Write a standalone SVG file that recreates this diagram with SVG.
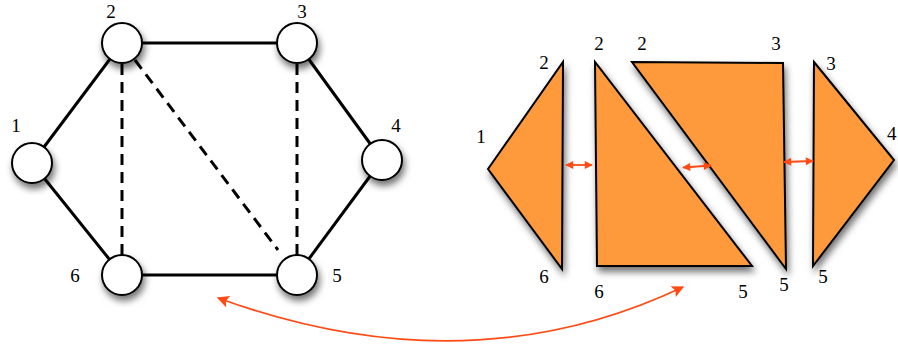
<svg xmlns="http://www.w3.org/2000/svg" width="898" height="350" viewBox="0 0 898 350">
<defs>
<filter id="sh" x="-30%" y="-30%" width="160%" height="160%">
<feDropShadow dx="2" dy="5" stdDeviation="3.5" flood-color="#000" flood-opacity="0.55"/>
</filter>
<marker id="ah" viewBox="0 0 10 10" refX="9" refY="5" markerWidth="10" markerHeight="8" markerUnits="userSpaceOnUse" orient="auto-start-reverse">
<path d="M0,0 L10,5 L0,10 Z" fill="#ff4a14"/>
</marker>
<marker id="bh" viewBox="0 0 10 10" refX="9" refY="5" markerWidth="14" markerHeight="12" markerUnits="userSpaceOnUse" orient="auto-start-reverse">
<path d="M0,0 L10,5 L0,10 L2,5 Z" fill="#ff4a14"/>
</marker>
</defs>
<style>
.edge{stroke:#000;stroke-width:3;fill:none}
.dash{stroke-dasharray:11 7}
.node{fill:#fff;stroke:#000;stroke-width:2;filter:url(#sh)}
.lbl{font-family:"Liberation Serif","DejaVu Serif",serif;font-size:19px;fill:#000}
.piece{fill:#fe9a3b;stroke:#000;stroke-width:2;stroke-linejoin:miter;filter:url(#sh)}
.red{stroke:#ff4a14;stroke-width:1.8;fill:none}
</style>
<g id="connectors">
<line class="edge" x1="122" y1="43" x2="297" y2="43"/>
<line class="edge" x1="122" y1="275" x2="297" y2="275"/>
<line class="edge" x1="32" y1="163" x2="122" y2="43"/>
<line class="edge" x1="32" y1="163" x2="122" y2="275"/>
<line class="edge" x1="382" y1="160" x2="297" y2="43"/>
<line class="edge" x1="382" y1="160" x2="297" y2="275"/>
<line class="edge dash" x1="122" y1="64" x2="122" y2="255"/>
<line class="edge dash" x1="297" y1="64" x2="297" y2="255"/>
<line class="edge dash" x1="135" y1="60" x2="278" y2="250"/>
<path class="red" d="M218,298 Q468,389 683,287" marker-start="url(#bh)" marker-end="url(#bh)"/>
</g>
<g id="node1"><circle class="node" cx="32" cy="163" r="20"/><text class="lbl" font-family="Liberation Serif, DejaVu Serif, serif" x="16" y="132" text-anchor="middle">1</text></g>
<g id="node2"><circle class="node" cx="122" cy="43" r="20"/><text class="lbl" font-family="Liberation Serif, DejaVu Serif, serif" x="111" y="18" text-anchor="middle">2</text></g>
<g id="node3"><circle class="node" cx="297" cy="43" r="20"/><text class="lbl" font-family="Liberation Serif, DejaVu Serif, serif" x="302" y="18" text-anchor="middle">3</text></g>
<g id="node4"><circle class="node" cx="382" cy="160" r="20"/><text class="lbl" font-family="Liberation Serif, DejaVu Serif, serif" x="396" y="132" text-anchor="middle">4</text></g>
<g id="node5"><circle class="node" cx="297" cy="275" r="20"/><text class="lbl" font-family="Liberation Serif, DejaVu Serif, serif" x="337" y="282" text-anchor="middle">5</text></g>
<g id="node6"><circle class="node" cx="122" cy="275" r="20"/><text class="lbl" font-family="Liberation Serif, DejaVu Serif, serif" x="75" y="282" text-anchor="middle">6</text></g>
<g id="piece126">
<polygon class="piece" points="488,169 563,62 562,269"/>
<text class="lbl" x="544" y="69" text-anchor="middle">2</text>
<text class="lbl" x="481" y="143" text-anchor="middle">1</text>
<text class="lbl" x="544" y="283" text-anchor="middle">6</text>
</g>
<g id="piece265">
<polygon class="piece" points="595,62 597,266 752,266"/>
<text class="lbl" x="599" y="50" text-anchor="middle">2</text>
<text class="lbl" x="599" y="298" text-anchor="middle">6</text>
<text class="lbl" x="743" y="298" text-anchor="middle">5</text>
</g>
<g id="piece235">
<polygon class="piece" points="632,62 783,63 786,269"/>
<text class="lbl" x="642" y="50" text-anchor="middle">2</text>
<text class="lbl" x="776" y="50" text-anchor="middle">3</text>
<text class="lbl" x="784" y="291" text-anchor="middle">5</text>
</g>
<g id="piece345">
<polygon class="piece" points="814,62 894,160 813,266"/>
<text class="lbl" x="831" y="70" text-anchor="middle">3</text>
<text class="lbl" x="887" y="140">4</text>
<text class="lbl" x="823" y="283" text-anchor="middle">5</text>
</g>
<g id="gap-arrows">
<line class="red" x1="566" y1="165" x2="592" y2="165" marker-start="url(#ah)" marker-end="url(#ah)"/>
<line class="red" x1="683" y1="167.5" x2="711" y2="165.5" marker-start="url(#ah)" marker-end="url(#ah)"/>
<line class="red" x1="784" y1="162" x2="813" y2="161" marker-start="url(#ah)" marker-end="url(#ah)"/>
</g>
</svg>
